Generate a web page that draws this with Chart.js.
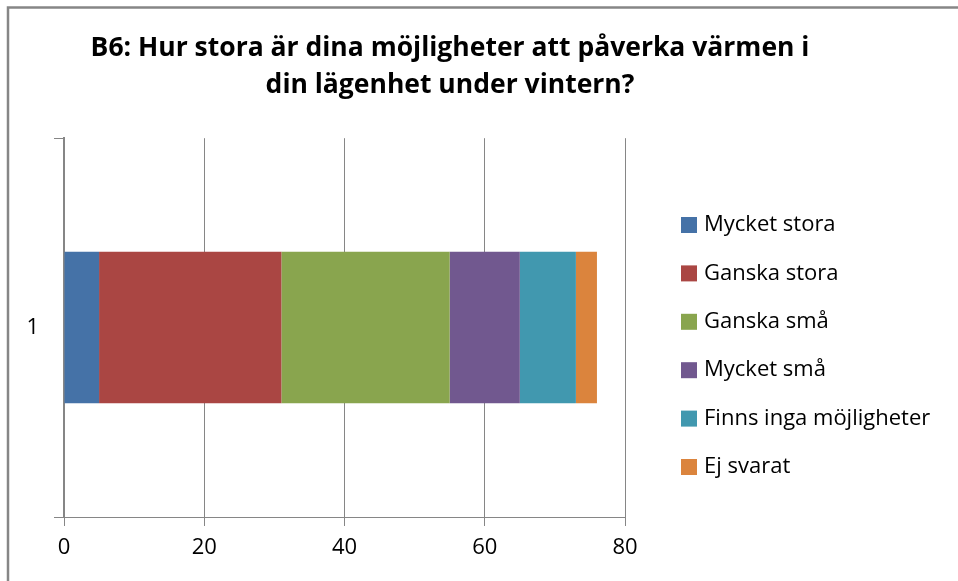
<!DOCTYPE html>
<html>
<head>
<meta charset="utf-8">
<script src="https://cdn.jsdelivr.net/npm/chart.js@4"></script>
<style>
  html, body { margin: 0; padding: 0; background: #fff; }
  #wrap { width: 958px; height: 581px; }
</style>
</head>
<body>
<div id="wrap"><canvas id="myChart" width="958" height="581"></canvas></div>
<script>
// chart data
const categories = ['1'];
const seriesNames = ['Mycket stora', 'Ganska stora', 'Ganska små', 'Mycket små', 'Finns inga möjligheter', 'Ej svarat'];
const seriesValues = [[5], [26], [24], [10], [8], [3]];
const seriesColors = ['#4572A7', '#AA4643', '#89A54E', '#71588F', '#4198AF', '#DB843D'];
const xTicks = [0, 20, 40, 60, 80];
const titleLines = ['B6: Hur stora är dina möjligheter att påverka värmen i', 'din lägenhet under vintern?'];

const FONT = '"Open Sans", Lato, sans-serif';
const GRID = '#868686';

// white background + frame lines on top/left
const framePlugin = {
  id: 'frame',
  beforeDraw(chart) {
    const c = chart.ctx;
    c.save();
    c.fillStyle = '#fff';
    c.fillRect(0, 0, chart.width, chart.height);
    c.strokeStyle = GRID;
    c.lineWidth = 2.5;
    c.beginPath();
    c.moveTo(8, chart.height + 5);
    c.lineTo(8, 7.5);
    c.lineTo(chart.width + 5, 7.5);
    c.stroke();
    c.restore();
  }
};

// legend drawn on the right, like the Excel one
const sideLegend = {
  id: 'sideLegend',
  afterDraw(chart) {
    const c = chart.ctx;
    c.save();
    c.font = '22px ' + FONT;
    c.textBaseline = 'middle';
    c.textAlign = 'left';
    chart.data.datasets.forEach((ds, i) => {
      const y = 225 + i * 48.4;
      c.fillStyle = ds.backgroundColor;
      c.fillRect(681, y - 8, 16, 16);
      c.fillStyle = '#000';
      c.fillText(ds.label, 704, y);
    });
    c.restore();
  }
};

const ctx = document.getElementById('myChart').getContext('2d');
new Chart(ctx, {
  type: 'bar',
  data: {
    labels: categories,
    datasets: seriesNames.map((name, i) => ({
      label: name,
      data: seriesValues[i],
      backgroundColor: seriesColors[i],
      borderWidth: 0,
      barPercentage: 0.5,
      categoryPercentage: 0.8
    }))
  },
  options: {
    indexAxis: 'y',
    responsive: false,
    animation: false,
    layout: { padding: { left: 0, right: 58, top: 0, bottom: 0 } },
    plugins: {
      legend: { display: false },
      tooltip: { enabled: false },
      title: {
        display: true,
        text: titleLines,
        color: '#000',
        font: { family: FONT, size: 26.5, weight: 'bold', lineHeight: 1.4 },
        padding: { top: 30, bottom: 34 }
      }
    },
    scales: {
      x: {
        stacked: true,
        min: 0,
        max: 80,
        afterFit(scale) { scale.height = 64; },
        afterBuildTicks(scale) { scale.ticks = xTicks.map(v => ({ value: v })); },
        grid: { color: GRID, lineWidth: 1, tickLength: 9, drawTicks: true },
        border: { color: GRID, width: 1 },
        ticks: { color: '#000', padding: 9, font: { family: FONT, size: 22 } }
      },
      y: {
        stacked: true,
        afterFit(scale) { scale.width = 64; },
        grid: { drawOnChartArea: false, offset: true, color: GRID, tickLength: 10 },
        border: { color: GRID, width: 2 },
        ticks: { color: '#000', padding: 15, font: { family: FONT, size: 22 } }
      },
      yPad: {
        position: 'right',
        axis: 'y',
        type: 'category',
        display: true,
        afterFit(scale) { scale.width = 275; },
        grid: { display: false },
        border: { display: false },
        ticks: { display: false }
      }
    }
  },
  plugins: [framePlugin, sideLegend]
});
</script>
</body>
</html>
